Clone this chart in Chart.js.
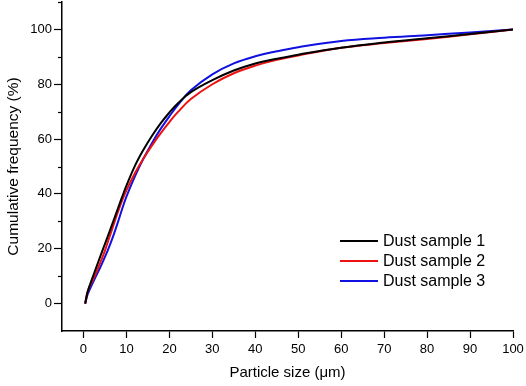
<!DOCTYPE html>
<html>
<head>
<meta charset="utf-8">
<script src="https://cdn.jsdelivr.net/npm/chart.js@4/dist/chart.umd.min.js"></script>
<style>
  html, body { margin: 0; padding: 0; background: #fff; }
  #wrap { width: 526px; height: 386px; }
</style>
</head>
<body>
<div id="wrap"><canvas id="psd"></canvas></div>
<script>
// particle size (um) and cumulative frequency (%)
const sizes   = [0.4, 1, 2, 3, 4, 5, 6, 7, 8, 9, 10, 12, 14, 16, 18, 20, 22, 25, 30, 35, 40, 45, 50, 60, 70, 80, 90, 100];
const sample1 = [0, 4.5, 9, 13.3, 17.6, 21.8, 26, 30.3, 34.6, 38.9, 43, 50.3, 56.2, 61.3, 65.8, 69.7, 73.1, 77.1, 81.5, 85, 87.6, 89.3, 90.8, 93.3, 95.2, 96.8, 98.3, 100];
const sample2 = [0, 4.5, 8, 11.5, 15.3, 19.3, 24, 28.7, 33.3, 37.6, 41.3, 47.6, 53, 57.8, 62.2, 66.2, 69.9, 74.6, 80, 84, 86.8, 88.9, 90.5, 93.3, 95, 96.5, 98.2, 100];
const sample3 = [0, 3.5, 7, 10.3, 13.5, 17, 20.8, 25, 29.6, 34.5, 39, 46.5, 53, 58.7, 63.8, 68.3, 72.5, 77.8, 83.6, 87.6, 90.2, 92, 93.5, 95.8, 97, 97.9, 98.9, 100];
const seriesNames = ['Dust sample 1', 'Dust sample 2', 'Dust sample 3'];
const seriesColors = ['#000000', '#ee1111', '#1010e0'];
const xTickValues = [0, 10, 20, 30, 40, 50, 60, 70, 80, 90, 100];
const yTickValues = [-10, 0, 10, 20, 30, 40, 50, 60, 70, 80, 90, 100, 110];

const toPoints = ys => sizes.map((x, i) => ({ x: x, y: ys[i] }));
const isMajorY = v => v % 20 === 0 && v >= 0 && v <= 100;

// short minor ticks on the y axis (odd tens)
const minorTicks = {
    id: 'minorTicks',
    afterDraw(chart) {
        const ctx = chart.ctx;
        const y = chart.scales.y;
        ctx.save();
        ctx.strokeStyle = '#000';
        ctx.lineWidth = 1.2;
        y.ticks.forEach(t => {
            if (!isMajorY(t.value) && t.value > -10) {
                const py = Math.round(y.getPixelForValue(t.value)) + 0.5;
                ctx.beginPath();
                ctx.moveTo(y.right - 4, py);
                ctx.lineTo(y.right, py);
                ctx.stroke();
            }
        });
        ctx.restore();
    }
};

// legend drawn inside the plot, lower right
const insideLegend = {
    id: 'insideLegend',
    afterDraw(chart) {
        const ctx = chart.ctx;
        const area = chart.chartArea;
        ctx.save();
        ctx.font = '16px "Liberation Sans", Arial, sans-serif';
        ctx.textBaseline = 'middle';
        chart.data.datasets.forEach((ds, i) => {
            const yy = area.bottom - 90 + i * 20;
            ctx.strokeStyle = ds.borderColor;
            ctx.lineWidth = 2;
            ctx.beginPath();
            ctx.moveTo(area.right - 173, yy);
            ctx.lineTo(area.right - 135, yy);
            ctx.stroke();
            ctx.fillStyle = '#000';
            ctx.fillText(ds.label, area.right - 130, yy + 1);
        });
        ctx.restore();
    }
};

const font = { family: '"Liberation Sans", Arial, sans-serif', size: 13 };

new Chart(document.getElementById('psd').getContext('2d'), {
    type: 'line',
    data: {
        datasets: [sample1, sample2, sample3].map((ys, i) => ({
            label: seriesNames[i],
            data: toPoints(ys),
            borderColor: seriesColors[i],
            backgroundColor: seriesColors[i],
            borderWidth: 2,
            pointRadius: 0,
            tension: 0.4,
            fill: false
        }))
    },
    options: {
        responsive: true,
        maintainAspectRatio: false,
        animation: false,
        layout: { padding: { top: 2, right: 13, left: 0, bottom: 0 } },
        plugins: {
            legend: { display: false },
            tooltip: { enabled: false }
        },
        scales: {
            x: {
                type: 'linear',
                min: -5,
                max: 100,
                afterBuildTicks: s => { s.ticks = xTickValues.map(v => ({ value: v })); },
                afterFit: s => { s.height = 55; s.paddingLeft = 0; s.paddingRight = 0; },
                border: { display: true, color: '#000', width: 1.5 },
                grid: {
                    drawOnChartArea: false,
                    tickLength: 7,
                    tickWidth: 1.2,
                    tickColor: '#000'
                },
                ticks: {
                    color: '#000',
                    padding: 4,
                    maxRotation: 0,
                    autoSkip: false,
                    font: font
                },
                title: {
                    display: true,
                    text: 'Particle size (\u03bcm)',
                    color: '#000',
                    padding: { top: 5 },
                    font: { family: font.family, size: 15 }
                }
            },
            y: {
                min: -10,
                max: 110,
                afterBuildTicks: s => { s.ticks = yTickValues.map(v => ({ value: v })); },
                afterFit: s => { s.width = 62; s.paddingTop = 0; s.paddingBottom = 0; },
                border: { display: true, color: '#000', width: 1.5 },
                grid: {
                    drawOnChartArea: false,
                    tickLength: 8,
                    tickWidth: 1.2,
                    tickColor: c => (c.tick && isMajorY(c.tick.value) ? '#000' : 'rgba(0,0,0,0)')
                },
                ticks: {
                    color: '#000',
                    padding: 2,
                    autoSkip: false,
                    font: font,
                    callback: v => (isMajorY(v) ? v : '')
                },
                title: {
                    display: true,
                    text: 'Cumulative frequency (%)',
                    color: '#000',
                    padding: { bottom: 0 },
                    font: { family: font.family, size: 15.5 }
                }
            }
        }
    },
    plugins: [minorTicks, insideLegend]
});
</script>
</body>
</html>
